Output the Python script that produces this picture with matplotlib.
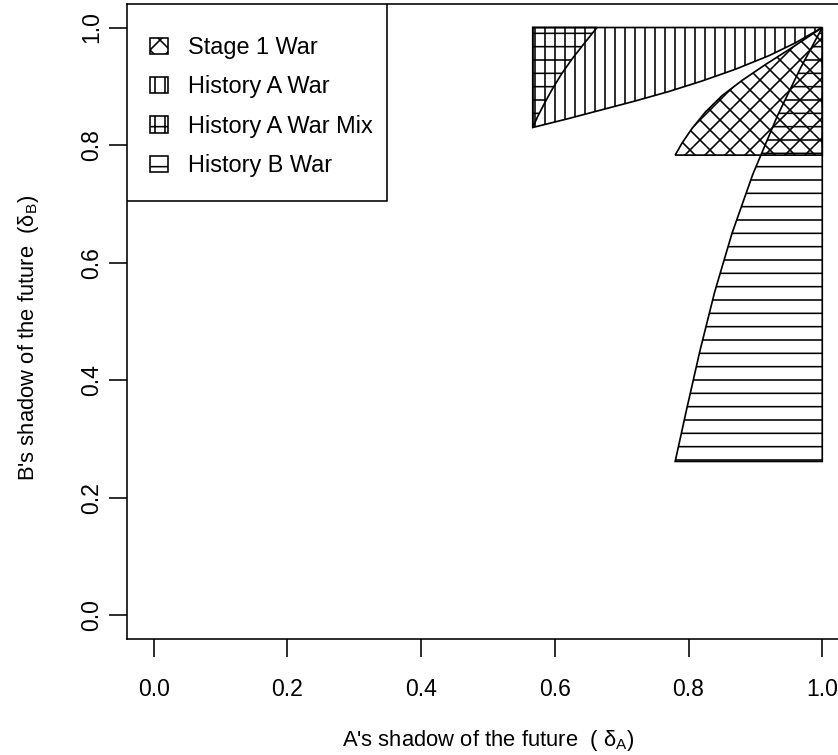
import matplotlib
matplotlib.use("Agg")
import matplotlib.pyplot as plt
from matplotlib.patches import Patch, Rectangle

DPI = 240


def pt(px):
    # pixel size -> points at the working dpi
    return px * 72.0 / DPI


# region boundaries (delta_A, delta_B)
hist_a_x = [0.567, 1.0, 1.0, 0.96, 0.92, 0.87, 0.82, 0.77, 0.72, 0.67, 0.62, 0.567]
hist_a_y = [1.0, 1.0, 1.0, 0.974, 0.952, 0.929, 0.909, 0.891, 0.875, 0.860, 0.845, 0.830]

mix_x = [0.567, 0.574, 0.584, 0.596, 0.610, 0.626, 0.644, 0.663, 0.567]
mix_y = [0.830, 0.848, 0.870, 0.895, 0.921, 0.947, 0.973, 1.0, 1.0]

stage1_x = [0.780, 0.790, 0.805, 0.825, 0.850, 0.880, 0.915, 0.955, 1.0, 1.0]
stage1_y = [0.783, 0.803, 0.828, 0.856, 0.884, 0.910, 0.937, 0.966, 1.0, 0.783]

hist_b_x = [0.780, 0.797, 0.817, 0.839, 0.865, 0.896, 0.933, 0.967, 1.0, 1.0]
hist_b_y = [0.262, 0.350, 0.450, 0.550, 0.650, 0.750, 0.850, 0.930, 1.0, 0.262]

labels = ["Stage 1 War", "History A War", "History A War Mix", "History B War"]
hatches = ["xxxx", "||||", "||||---", "---"]

ticks = [0.0, 0.2, 0.4, 0.6, 0.8, 1.0]
tick_labels = ["0.0", "0.2", "0.4", "0.6", "0.8", "1.0"]

plt.rcParams["font.family"] = "Liberation Sans"
plt.rcParams["mathtext.fontset"] = "custom"
plt.rcParams["mathtext.rm"] = "Liberation Sans"
plt.rcParams["mathtext.it"] = "Liberation Sans"
plt.rcParams["hatch.linewidth"] = pt(1.6)
plt.rcParams["axes.linewidth"] = pt(1.6)

fig = plt.figure(figsize=(838 / DPI, 755 / DPI), dpi=DPI)
ax = fig.add_axes([127 / 838, 1 - 639 / 755, 722 / 838, 635 / 755])
ax.set_xlim(-0.04, 1.04)
ax.set_ylim(-0.04, 1.04)

style = dict(facecolor="none", edgecolor="black", linewidth=pt(1.7))
ax.fill(hist_a_x, hist_a_y, hatch="||||", **style)
ax.fill(mix_x, mix_y, hatch="---", **style)
ax.fill(stage1_x, stage1_y, hatch="xxxx", **style)
ax.fill(hist_b_x, hist_b_y, hatch="---", **style)

ax.set_xticks(ticks, tick_labels)
ax.set_yticks(ticks, tick_labels)
ax.tick_params(direction="out", length=pt(18), width=pt(1.6), labelsize=pt(23))
ax.tick_params(axis="x", pad=pt(21))
ax.tick_params(axis="y", pad=pt(6))
plt.setp(ax.get_yticklabels(), rotation=90, va="center")

ax.set_xlabel(r"A's shadow of the future  ( $\mathrm{\delta_A}$)", fontsize=pt(22), va="baseline")
ax.xaxis.set_label_coords(0.5, -(746 - 639) / 635)
ax.set_ylabel(r"B's shadow of the future  ($\mathrm{\delta_B}$)", fontsize=pt(22))
ax.yaxis.set_label_coords((41 - 127) / 722, (639 - 338) / 635)

# legend box in the top-left corner of the plot region
ax.add_patch(Rectangle((0, (639 - 201) / 635), 260 / 722, 1 - (639 - 201) / 635,
                       transform=ax.transAxes, facecolor="white", edgecolor="black",
                       linewidth=pt(1.6), zorder=4))
handles = [Patch(facecolor="white", edgecolor="black", hatch=h, linewidth=pt(1.6)) for h in hatches]
leg = ax.legend(handles, labels, loc="upper left",
                bbox_to_anchor=((150 - 127) / 722, 1 - (36 - 4) / 635),
                borderaxespad=0, borderpad=0, frameon=False,
                fontsize=pt(23.5), handlelength=0.75, handleheight=0.7,
                handletextpad=0.87, labelspacing=0.7)
leg.set_zorder(5)

fig.savefig("out.png", dpi=DPI)
